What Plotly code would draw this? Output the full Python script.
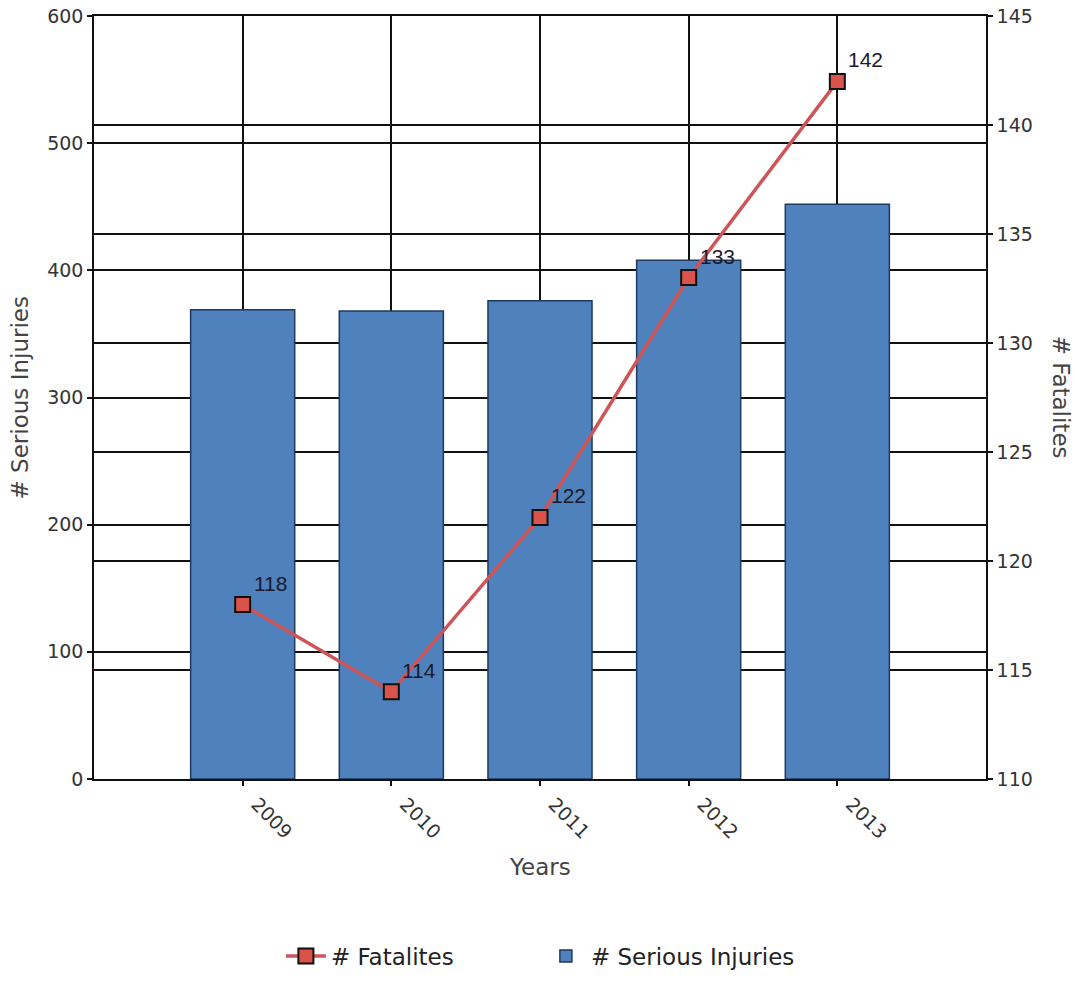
import plotly.graph_objects as go

# Yearly road-safety figures
years = [2009, 2010, 2011, 2012, 2013]
serious_injuries = [369, 368, 376, 408, 452]
fatalities = [118, 114, 122, 133, 142]

left_ticks = [0, 100, 200, 300, 400, 500, 600]
right_ticks = [110, 115, 120, 125, 130, 135, 140, 145]

tick_font = dict(family="DejaVu Sans", size=19, color="#333333")
title_font = dict(family="DejaVu Sans", size=23, color="#444444")

fig = go.Figure()

fig.add_trace(go.Scatter(
    x=years, y=fatalities, name="# Fatalites", yaxis="y2",
    mode="lines+markers",
    line=dict(color="#CD5558", width=3.5),
    marker=dict(symbol="square", size=15, color="#D9534A",
                line=dict(color="#111111", width=2)),
))

fig.add_trace(go.Bar(
    x=years, y=serious_injuries, name="# Serious Injuries",
    width=0.7,
    marker=dict(color="#4F81BD", line=dict(color="#1F3A5F", width=1.5)),
))

# value labels next to each fatality marker
for yr, v in zip(years, fatalities):
    fig.add_annotation(
        x=yr, y=v, xref="x", yref="y2", text=str(v), showarrow=False,
        xanchor="left", yanchor="bottom", xshift=9, yshift=8,
        font=dict(family="Liberation Sans", size=21, color="#1a1a2a"),
    )

# axis titles
fig.add_annotation(x=-0.083, y=0.5, xref="paper", yref="paper",
                   text="# Serious Injuries", textangle=-90, showarrow=False,
                   xanchor="center", yanchor="middle", font=title_font)
fig.add_annotation(x=1.085, y=0.5, xref="paper", yref="paper",
                   text="# Fatalites", textangle=90, showarrow=False,
                   xanchor="center", yanchor="middle", font=title_font)
fig.add_annotation(x=0.5, y=-0.115, xref="paper", yref="paper",
                   text="Years", showarrow=False,
                   xanchor="center", yanchor="middle", font=title_font)

axis_common = dict(
    showline=True, linecolor="#111111", linewidth=1.5,
    showgrid=True, gridcolor="#111111", gridwidth=1.5,
    ticks="outside", ticklen=5, tickcolor="#111111", tickwidth=1.5,
    zeroline=False, tickfont=tick_font, automargin=False,
)

fig.update_layout(
    width=1075, height=982,
    margin=dict(l=94, r=89, t=16, b=203, autoexpand=False),
    paper_bgcolor="white", plot_bgcolor="white",
    showlegend=True,
    legend=dict(orientation="h", x=0.501, xanchor="center", y=-0.232,
                yanchor="middle", traceorder="normal",
                font=dict(family="DejaVu Sans", size=23, color="#222222"),
                itemwidth=40, entrywidth=205),
    xaxis=dict(range=[2008, 2014], tickvals=years, ticktext=[str(y) for y in years],
               tickangle=45, ticklabelshift=14, mirror=True, **axis_common),
    yaxis=dict(range=[0, 600], tickvals=left_ticks, **axis_common),
    yaxis2=dict(range=[110, 145], tickvals=right_ticks, overlaying="y",
                side="right", **axis_common),
    bargap=0.3,
)

fig.write_html("out.html")
